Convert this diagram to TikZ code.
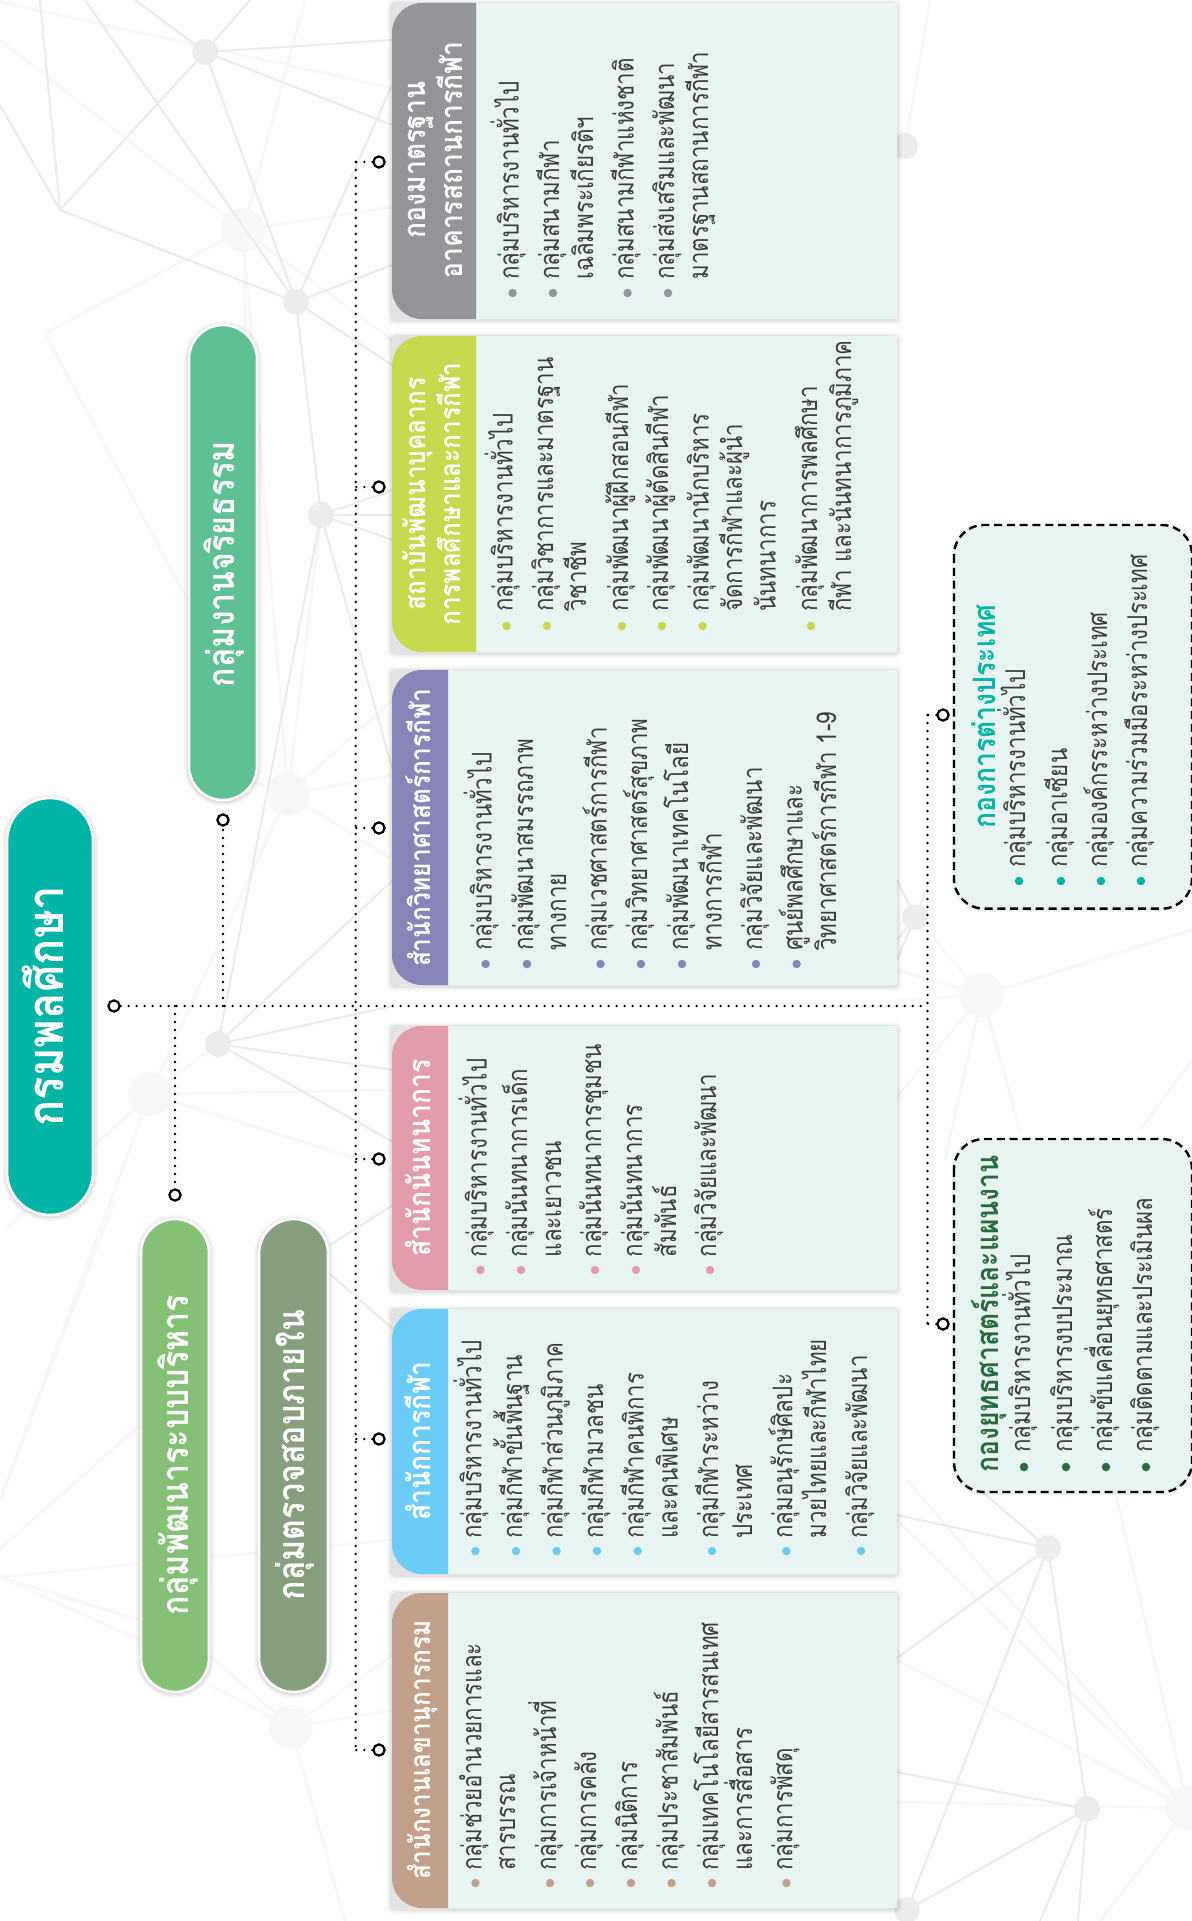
\documentclass[tikz,border=0pt]{standalone}
\usepackage{fontspec}
\newfontfamily\thaic[Script=Thai,FakeStretch=0.82]{Loma}
\newfontfamily\thaih[Script=Thai,FakeStretch=0.86]{Loma}
\usetikzlibrary{calc}
\definecolor{panelbg}{HTML}{E8F4F1}
\definecolor{netA}{HTML}{ECECEC}
\definecolor{netB}{HTML}{F8F8F8}
\definecolor{cteal}{HTML}{00B5A5}
\definecolor{cgreyh}{HTML}{939598}
\definecolor{cyel}{HTML}{C6D94F}
\definecolor{cpur}{HTML}{8784B7}
\definecolor{cpink}{HTML}{E29CAC}
\definecolor{cblue}{HTML}{6BCDF7}
\definecolor{cbrown}{HTML}{C2A08A}
\definecolor{cgrn}{HTML}{5FC193}
\definecolor{clgrn}{HTML}{84C177}
\definecolor{colive}{HTML}{879F7E}
\definecolor{cdkg}{HTML}{2A6A3E}
\definecolor{txt}{HTML}{3A3F3E}
\newcounter{nn}
\tikzset{
 neta/.style={netA,line width=1pt},
 netb/.style={netB,line width=1.3pt},
 litext/.style={rotate=90,anchor=base west,inner sep=0pt,text=txt,font=\thaic\fontsize{13.6}{14}\selectfont},
 headtext/.style={rotate=90,anchor=base,inner sep=0pt,text=white,font=\thaih\bfseries\fontsize{15.4}{16}\selectfont},
 headnarrow/.style={headtext,font=\thaih\bfseries\fontsize{14.2}{16}\selectfont},
 pilltext/.style={rotate=90,anchor=base,inner sep=0pt,text=white,font=\thaih\bfseries\fontsize{18.7}{20}\selectfont},
 boxtitle/.style={rotate=90,anchor=base west,inner sep=0pt,font=\thaih\bfseries\fontsize{15.4}{16}\selectfont},
 ring/.style={circle,draw=black,fill=white,line width=1.1pt,minimum size=5.6pt,inner sep=0pt},
 dotline/.style={black,line width=1.3pt,line cap=round,dash pattern=on 0pt off 4pt},
 dashbox/.style={fill=panelbg,draw=black,line width=1.2pt,dash pattern=on 4pt off 2.4pt},
}
% li with bullet: baseline x, text start y, bullet y, colour, text
\newcommand{\LiB}[5]{\stepcounter{nn}\fill[#4] ({#1-6},#3) circle[radius=2.1pt];\node[litext] (li\thenn) at (#1,#2) {#5};}
\newcommand{\LiC}[3]{\stepcounter{nn}\node[litext] (li\thenn) at (#1,#2) {#3};}
% panel: y top, y bottom, header x end, colour
\newcommand{\Panel}[4]{
 \foreach \e/\o in {5/.025,3.5/.035,2/.05}{\fill[black,opacity=\o,rounded corners=3pt] ($(392-\e,#1-\e+1)$) rectangle ($(897+\e,#2+\e+1)$);}
 \fill[panelbg] (440,#1) rectangle (897,#2);
 \fill[#4] (#3,#1) -- (422,#1) arc[start angle=90,end angle=180,radius=15pt] -- (392,#2-30) arc[start angle=180,end angle=270,radius=15pt] -- (#3,#2) -- cycle;
}
\newcommand{\Pill}[6]{% name x0 x1 y0 y1 colour
 \foreach \e/\o in {5/.03,3.5/.04,2/.06}{\fill[black,opacity=\o,rounded corners={(#3-#2)/4*1pt+\e*.5pt}] ($(#2-\e,#4-\e+1)$) rectangle ($(#3+\e,#5+\e+1)$);}
 \draw[white,line width=1.3pt,fill=#6,rounded corners={(#3-#2)/4*1pt}] (#2,#4) rectangle (#3,#5);
}
\begin{document}
\begin{tikzpicture}[x=0.5pt,y=-0.5pt]
\useasboundingbox (0,0) rectangle (1192,1921);
\fill[white] (0,0) rectangle (1192,1921);
% ---------- background network
\coordinate (A) at (205,52); \coordinate (B) at (296,302); \coordinate (C) at (60,210);
\coordinate (D) at (243,230); \coordinate (E) at (45,333);
\coordinate (N1) at (321,515); \coordinate (N2) at (218,1044);
\coordinate (D3) at (288,794); \coordinate (D4) at (150,1094); \coordinate (D5) at (291,1727);
\coordinate (N3) at (915,917); \coordinate (D2) at (982,995); \coordinate (N7) at (905,146);
\coordinate (N4) at (1048,1548); \coordinate (N5) at (1087,1809); \coordinate (N6) at (907,1910); \coordinate (D6) at (1188,1808);
\coordinate (W) at (0,1577);
% faint
\draw[netb] (0,2)--(392,88) (0,40)--(D) (305,0)--(D) (D)--(392,207) (D)--(45,333) (E)--(80,400) (D)--(247,400) (D)--(392,340) 
 (D)--(D3) (D3)--(393,700) (D3)--(393,860) (D3)--(393,775) (D3)--(N1) (E)--(187,599) (D3)--(D4) (D4)--(393,1170) (D4)--(393,1090) (D4)--(N2) (D4)--(0,1500) (D4)--(5,1230) (D3)--(188,760) 
 (W)--(140,1640) (W)--(140,1620) (0,1549)--(140,1425) (W)--(393,1540) (0,1500)--(115,1200) (209,1655)--(D5) (209,1685)--(D5) (D5)--(393,1655) (D5)--(393,1710) (D5)--(345,1921) 
 (D2)--(N3) (D2)--(897,970) (D2)--(897,1000) (D2)--(1192,930) (D2)--(897,1097) (D2)--(945,1160) (D2)--(1020,1130) (1192,1060)--(1140,1130) 
 (D6)--(897,1660) (D6)--(907,1480) (D6)--(897,1802) (D6)--(1100,1921) (D6)--(1115,1490) (N7)--(930,0) (897,1520)--(D6);
\fill[netB] (D) circle[radius=11pt] (D3) circle[radius=11pt] (D4) circle[radius=11pt] (D5) circle[radius=11pt] (D2) circle[radius=11pt] (D6) circle[radius=11pt];
% solid
\draw[neta] (A)--(250,0) (A)--(135,0) (A)--(392,40) (A)--(392,125) (A)--(C) (A)--(B) (C)--(40,0) (C)--(0,105) (C)--(B) (85,0)--(B) 
 (B)--(392,85) (B)--(392,265) (B)--(392,365) (B)--(N1) (N1)--(N2) (N1)--(393,490) (N1)--(393,515) (N1)--(393,540) (N1)--(393,771) 
 (N2)--(393,880) (N2)--(393,1006) (N2)--(393,1070) (N2)--(393,1142) (330,1274)--(393,1329) (330,1245)--(393,1205) 
 (N3)--(897,880) (N3)--(897,940) (N3)--(897,960) (N3)--(930,880) 
 (N4)--(897,1515) (N4)--(980,1490) (N4)--(897,1658) (N4)--(N5) (N4)--(N6) 
 (N5)--(897,1772) (N5)--(N6) (N5)--(1040,1921) (N5)--(1078,1921);
\fill[netA] (A) circle[radius=6.5pt] (B) circle[radius=6.5pt] (N1) circle[radius=6.5pt] (N2) circle[radius=6.5pt] (N3) circle[radius=6.5pt] (N7) circle[radius=6.5pt] (N4) circle[radius=6.5pt] (N5) circle[radius=6.5pt] (N6) circle[radius=6.5pt];

% ---------- pills
\Pill{pmain}{7}{93}{798}{1215}{cteal}
\Pill{peth}{189}{257}{325}{800}{cgrn}
\Pill{pdev}{141}{209}{1219}{1692}{clgrn}
\Pill{paud}{259}{328}{1219}{1692}{colive}
\node[pilltext,font=\thaih\bfseries\fontsize{25.3}{26}\selectfont] (main) at (63,1006) {กรมพลศึกษา};
\node[pilltext] (eth) at (234,564) {กลุ่มงานจริยธรรม};
\node[pilltext] (dev) at (188,1455) {กลุ่มพัฒนาระบบบริหาร};
\node[pilltext] (aud) at (304,1455) {กลุ่มตรวจสอบภายใน};

% ---------- panels
\Panel{3}{319}{476}{cgreyh}
\Panel{336}{652}{476}{cyel}
\Panel{670}{985}{448}{cpur}
\Panel{1026}{1290}{448}{cpink}
\Panel{1309}{1574}{448}{cblue}
\Panel{1593}{1908}{448}{cbrown}

\node[headtext] (h1a) at (425.6,160) {กองมาตรฐาน};
\node[headtext] (h1b) at (462,160) {อาคารสถานการกีฬา};
\node[headnarrow] (h2a) at (425.6,494) {สถาบันพัฒนาบุคลากร};
\node[headnarrow] (h2b) at (460.5,494) {การพลศึกษาและการกีฬา};
\node[headnarrow] (h3) at (430.7,828) {สำนักวิทยาศาสตร์การกีฬา};
\node[headtext] (h4) at (430.7,1158) {สำนักนันทนาการ};
\node[headtext] (h5) at (430.7,1441) {สำนักการกีฬา};
\node[headnarrow] (h6) at (430.7,1750) {สำนักงานเลขานุการกรม};

% grey
\LiB{518.6}{280}{293}{cgreyh}{กลุ่มบริหารงานทั่วไป}
\LiB{559}{280}{293}{cgreyh}{กลุ่มสนามกีฬา}
\LiC{593}{280}{เฉลิมพระเกียรติฯ}
\LiB{633.5}{280}{293}{cgreyh}{กลุ่มสนามกีฬาแห่งชาติ}
\LiB{674}{280}{293}{cgreyh}{กลุ่มส่งเสริมและพัฒนา}
\LiC{708}{280}{มาตรฐานสถานการกีฬา}
% yellow
\LiB{512.5}{612}{626}{cyel}{กลุ่มบริหารงานทั่วไป}
\LiB{553}{612}{626}{cyel}{กลุ่มวิชาการและมาตรฐาน}
\LiC{586}{612}{วิชาชีพ}
\LiB{628}{612}{626}{cyel}{กลุ่มพัฒนาผู้ฝึกสอนกีฬา}
\LiB{668}{612}{626}{cyel}{กลุ่มพัฒนาผู้ตัดสินกีฬา}
\LiB{708.6}{612}{626}{cyel}{กลุ่มพัฒนานักบริหาร}
\LiC{742}{612}{จัดการกีฬาและผู้นำ}
\LiC{775.5}{612}{นันทนาการ}
\LiB{817}{612}{626}{cyel}{กลุ่มพัฒนาการพลศึกษา}
\LiC{851}{612}{กีฬา และนันทนาการภูมิภาค}
% purple
\LiB{491.6}{951}{964}{cpur}{กลุ่มบริหารงานทั่วไป}
\LiB{533}{951}{964}{cpur}{กลุ่มพัฒนาสมรรถภาพ}
\LiC{566}{951}{ทางกาย}
\LiB{606.5}{951}{964}{cpur}{กลุ่มเวชศาสตร์การกีฬา}
\LiB{647}{951}{964}{cpur}{กลุ่มวิทยาศาสตร์สุขภาพ}
\LiB{688}{951}{964}{cpur}{กลุ่มพัฒนาเทคโนโลยี}
\LiC{721.5}{951}{ทางการกีฬา}
\LiB{762}{951}{964}{cpur}{กลุ่มวิจัยและพัฒนา}
\LiB{802.6}{951}{964}{cpur}{ศูนย์พลศึกษาและ}
\LiC{836}{951}{วิทยาศาสตร์การกีฬา 1-9}
% pink
\LiB{486.5}{1257.6}{1270}{cpink}{กลุ่มบริหารงานทั่วไป}
\LiB{527}{1257.6}{1270}{cpink}{กลุ่มนันทนาการเด็ก}
\LiC{561}{1257.6}{และเยาวชน}
\LiB{601}{1257.6}{1270}{cpink}{กลุ่มนันทนาการชุมชน}
\LiB{642}{1257.6}{1270}{cpink}{กลุ่มนันทนาการ}
\LiC{676}{1257.6}{สัมพันธ์}
\LiB{716}{1257.6}{1270}{cpink}{กลุ่มวิจัยและพัฒนา}
% blue
\LiB{481.4}{1539}{1551}{cblue}{กลุ่มบริหารงานทั่วไป}
\LiB{522}{1539}{1551}{cblue}{กลุ่มกีฬาขั้นพื้นฐาน}
\LiB{562.6}{1539}{1551}{cblue}{กลุ่มกีฬาส่วนภูมิภาค}
\LiB{603}{1539}{1551}{cblue}{กลุ่มกีฬามวลชน}
\LiB{643.7}{1539}{1551}{cblue}{กลุ่มกีฬาคนพิการ}
\LiC{677.5}{1539}{และคนพิเศษ}
\LiB{718}{1539}{1551}{cblue}{กลุ่มกีฬาระหว่าง}
\LiC{752}{1539}{ประเทศ}
\LiB{792.4}{1539}{1551}{cblue}{กลุ่มอนุรักษ์ศิลปะ}
\LiC{826}{1539}{มวยไทยและกีฬาไทย}
\LiB{867}{1539}{1551}{cblue}{กลุ่มวิจัยและพัฒนา}
% brown
\LiB{481.4}{1871}{1883}{cbrown}{กลุ่มช่วยอำนวยการและ}
\LiC{515}{1871}{สารบรรณ}
\LiB{556}{1871}{1883}{cbrown}{กลุ่มการเจ้าหน้าที่}
\LiB{596}{1871}{1883}{cbrown}{กลุ่มการคลัง}
\LiB{637}{1871}{1883}{cbrown}{กลุ่มนิติการ}
\LiB{677.5}{1871}{1883}{cbrown}{กลุ่มประชาสัมพันธ์}
\LiB{718}{1871}{1883}{cbrown}{กลุ่มเทคโนโลยีสารสนเทศ}
\LiC{752}{1871}{และการสื่อสาร}
\LiB{792.4}{1871}{1883}{cbrown}{กลุ่มการพัสดุ}

% ---------- dashed boxes
\fill[black,opacity=.06,rounded corners=15pt] (952,525) rectangle (1192,911);
\draw[dashbox,rounded corners=15pt] (954,525) rectangle (1192,908.6);
\fill[black,opacity=.06,rounded corners=15pt] (952,1139) rectangle (1192,1495);
\draw[dashbox,rounded corners=15pt] (954,1139) rectangle (1192,1492);
\node[boxtitle,text=cteal] (b1) at (995,828.6) {กองการต่างประเทศ};
\LiB{1025}{868}{881}{cteal}{กลุ่มบริหารงานทั่วไป}
\LiB{1067}{868}{881}{cteal}{กลุ่มอาเซียน}
\LiB{1107}{868}{881}{cteal}{กลุ่มองค์กรระหว่างประเทศ}
\LiB{1147}{868}{881}{cteal}{กลุ่มความร่วมมือระหว่างประเทศ}
\node[boxtitle,text=cdkg] (b2) at (998,1473) {กองยุทธศาสตร์และแผนงาน};
\LiB{1030}{1453}{1467}{cdkg}{กลุ่มบริหารงานทั่วไป}
\LiB{1072}{1453}{1467}{cdkg}{กลุ่มบริหารงบประมาณ}
\LiB{1112}{1453}{1467}{cdkg}{กลุ่มขับเคลื่อนยุทธศาสตร์}
\LiB{1152}{1453}{1467}{cdkg}{กลุ่มติดตามและประเมินผล}

% ---------- connectors
\coordinate (jm) at (927.5,1006);
\coordinate (j1) at (175,1006);
\coordinate (j2) at (223,1006);
\coordinate (tV) at (355.7,162);
\coordinate (bV) at (355.7,1750);
\coordinate (tI) at (927.5,715);
\coordinate (bI) at (927.5,1324);
\node[ring] (c0) at (114,1006) {};
\node[ring] (ceth) at (223,820) {};
\node[ring] (cdev) at (175,1195) {};
\node[ring] (g1) at (379,162) {};
\node[ring] (g2) at (379,487) {};
\node[ring] (g3) at (379,828) {};
\node[ring] (g4) at (379,1159) {};
\node[ring] (g5) at (379,1439) {};
\node[ring] (g6) at (379,1750) {};
\node[ring] (i1) at (943,715) {};
\node[ring] (i2) at (943,1324) {};
\draw[dotline] (c0) -- (jm);
\draw[dotline] (j1) -- (cdev);
\draw[dotline] (j2) -- (ceth);
\draw[dotline] (tV) -- (bV);
\draw[dotline] (tI) -- (bI);
\foreach \n in {g1,g2,g3,g4,g5,g6}{\draw[dotline] (\n) -- (\n -| tV);}
\foreach \n in {i1,i2}{\draw[dotline] (\n) -- (\n -| tI);}
\end{tikzpicture}
\end{document}
